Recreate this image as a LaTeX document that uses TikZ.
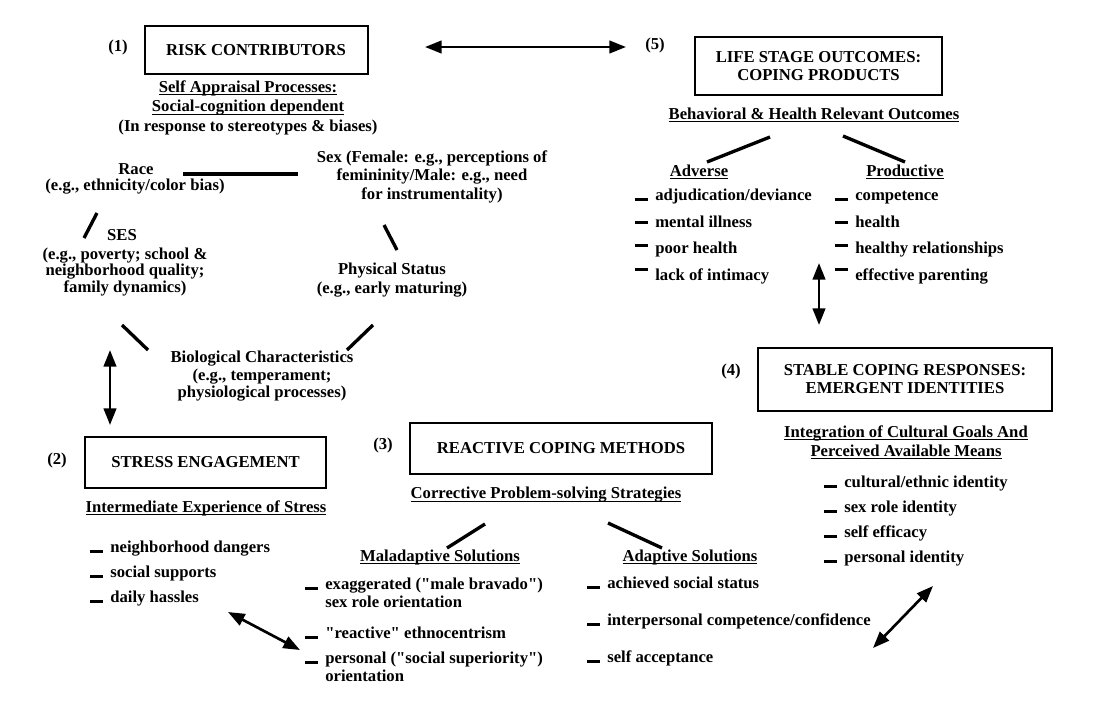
\documentclass[tikz,border=0pt]{standalone}
\usepackage{fontspec}
\setmainfont{Liberation Serif}
\usetikzlibrary{arrows, arrows.meta}
\newsavebox{\hdbox}
\newcommand{\hd}[1]{\sbox{\hdbox}{#1}\rlap{\rule[-2pt]{\wd\hdbox}{0.8pt}}\usebox{\hdbox}}
\newcommand{\itm}[2][0pt]{\raisebox{#1}{\rule[-0.6pt]{7.5pt}{1.8pt}}\hspace{4.5pt}#2}
\newcommand{\twoline}[2]{\begin{tabular}[t]{@{}l@{}}#1\\#2\end{tabular}}
\newcommand{\qq}{\textquotedbl}

\begin{document}
\begin{tikzpicture}[x=0.6pt, y=-0.6pt, font=\fontsize{10}{11}\selectfont\bfseries,
    stage/.style={draw, line width=1.2pt, align=center, inner sep=0pt},
    txt/.style={align=center, inner sep=0pt},
    lines/.style={font=\fontsize{10}{#1}\selectfont\bfseries},
    itemtxt/.style={anchor=base west, inner sep=0pt},
    bar/.style={line width=2pt},
    link/.style={>={Triangle[length=10pt, width=7.5pt]}, <->, line width=1.6pt}]

    \useasboundingbox (0,0) rectangle (1095,712);

    % (1) risk contributors
    \node (n1) at (118,47) {(1)};
    \node[stage, minimum width=133.8pt, minimum height=29pt] (risk) at (256,50) {RISK CONTRIBUTORS};
    \node[txt] (self1) at (248,88) {\hd{Self Appraisal Processes:}};
    \node[txt] (self2) at (248,108) {\hd{Social-cognition dependent}};
    \node[txt] (self3) at (248,128) {(In response to stereotypes \& biases)};

    \node[txt] (race) at (136,169) {Race};
    \node[txt] (racex) at (135,187) {(e.g., ethnicity/color bias)};
    \node[txt, lines=11.1pt] (sex) at (432,176.5) {Sex (Female: e.g., perceptions of\\femininity/Male: e.g., need\\for instrumentality)};
    \node[txt] (ses) at (122,235) {SES};
    \node[txt, lines=10pt] (sesx) at (125,272) {(e.g., poverty; school \&\\neighborhood quality;\\family dynamics)};
    \node[txt, lines=11.4pt] (phys) at (392,280.5) {Physical Status\\(e.g., early maturing)};
    \node[txt, lines=10.5pt] (bio) at (262,376.5) {Biological Characteristics\\(e.g., temperament;\\physiological processes)};

    \coordinate (raceR) at (183,174);
    \coordinate (sexL) at (298,174);
    \coordinate (sesT) at (97,213);
    \coordinate (sesB) at (84,238);
    \coordinate (sexB) at (384,225);
    \coordinate (physT) at (397,250);
    \coordinate (sesD) at (122,325);
    \coordinate (bioL) at (148,350);
    \coordinate (physD) at (373,325);
    \coordinate (bioR) at (347,350);
    \draw[bar] (raceR) -- (sexL);
    \draw[bar] (sesB) -- (sesT);
    \draw[bar] (sexB) -- (physT);
    \draw[bar] (sesD) -- (bioL);
    \draw[bar] (physD) -- (bioR);

    % (2) stress engagement
    \node (n2) at (57,460) {(2)};
    \node[stage, minimum width=144.6pt, minimum height=30.6pt] (stress) at (205.5,462.5) {STRESS ENGAGEMENT};
    \node[txt] (inter) at (206,508) {\hd{Intermediate Experience of Stress}};
    \node[itemtxt] (st1) at (90,552) {\itm{neighborhood dangers}};
    \node[itemtxt] (st2) at (90,577) {\itm{social supports}};
    \node[itemtxt] (st3) at (90,602) {\itm{daily hassles}};

    \coordinate (bioA) at (110,350);
    \coordinate (stressA) at (110,425);
    \draw[link] (bioA) -- (stressA);

    % (3) reactive coping methods
    \node (n3) at (383,445) {(3)};
    \node[stage, minimum width=181.2pt, minimum height=30.6pt] (react) at (561,448.5) {REACTIVE COPING METHODS};
    \node[txt] (corr) at (546,495) {\hd{Corrective Problem-solving Strategies}};
    \node[txt] (mal) at (440,557) {\hd{Maladaptive Solutions}};
    \node[txt] (ada) at (690,557) {\hd{Adaptive Solutions}};
    \coordinate (corrL) at (485,524);
    \coordinate (malT) at (447,548);
    \coordinate (corrR) at (608,523);
    \coordinate (adaT) at (662,548);
    \draw[bar] (corrL) -- (malT);
    \draw[bar] (corrR) -- (adaT);

    \node[itemtxt] (mal1) at (305,589) {\itm{\twoline{exaggerated (\qq male bravado\qq)}{sex role orientation}}};
    \node[itemtxt] (mal2) at (305,638) {\itm{\qq reactive\qq{} ethnocentrism}};
    \node[itemtxt] (mal3) at (305,663) {\itm{\twoline{personal (\qq social superiority\qq)}{orientation}}};
    \node[itemtxt] (ada1) at (587,588) {\itm{achieved social status}};
    \node[itemtxt] (ada2) at (587,625) {\itm{interpersonal competence/confidence}};
    \node[itemtxt] (ada3) at (587,662) {\itm{self acceptance}};

    \coordinate (stressC) at (228,612);
    \coordinate (malC) at (300,650);
    \draw[link] (stressC) -- (malC);

    % (4) stable coping responses
    \node (n4) at (731,371) {(4)};
    \node[stage, minimum width=176.4pt, minimum height=37.8pt, lines=10.8pt] (stable) at (905,379.5) {STABLE COPING RESPONSES:\\EMERGENT IDENTITIES};
    \node[txt] (integ1) at (906,433) {\hd{Integration of Cultural Goals And}};
    \node[txt] (integ2) at (906,452) {\hd{Perceived Available Means}};
    \node[itemtxt] (id1) at (824,487) {\itm{cultural/ethnic identity}};
    \node[itemtxt] (id2) at (824,512) {\itm{sex role identity}};
    \node[itemtxt] (id3) at (824,537) {\itm{self efficacy}};
    \node[itemtxt] (id4) at (824,562) {\itm{personal identity}};

    \coordinate (idC) at (933,586);
    \coordinate (adaC) at (873,648);
    \draw[link] (idC) -- (adaC);

    % (5) life stage outcomes
    \node (n5) at (655,45) {(5)};
    \node[stage, minimum width=148.2pt, minimum height=34.8pt, lines=10.5pt] (life) at (818.5,66) {LIFE STAGE OUTCOMES:\\COPING PRODUCTS};
    \node[txt] (behav) at (814,115) {\hd{Behavioral \& Health Relevant Outcomes}};
    \node[txt] (adv) at (699,172) {\hd{Adverse}};
    \node[txt] (prod) at (905,172) {\hd{Productive}};
    \coordinate (behavL) at (770,137);
    \coordinate (advT) at (707,162);
    \coordinate (behavR) at (843,136);
    \coordinate (prodT) at (905,162);
    \draw[bar] (behavL) -- (advT);
    \draw[bar] (behavR) -- (prodT);

    \node[itemtxt] (adv1) at (635,200) {\itm{adjudication/deviance}};
    \node[itemtxt] (adv2) at (635,227) {\itm[2.5pt]{mental illness}};
    \node[itemtxt] (adv3) at (635,253) {\itm[4.5pt]{poor health}};
    \node[itemtxt] (adv4) at (635,280) {\itm[6pt]{lack of intimacy}};
    \node[itemtxt] (prod1) at (835,200) {\itm{competence}};
    \node[itemtxt] (prod2) at (835,227) {\itm[2.5pt]{health}};
    \node[itemtxt] (prod3) at (835,253) {\itm[4.5pt]{healthy relationships}};
    \node[itemtxt] (prod4) at (835,280) {\itm[6pt]{effective parenting}};

    \coordinate (outA) at (819,263);
    \coordinate (stableA) at (819,325);
    \draw[link] (outA) -- (stableA);

    \coordinate (riskA) at (425,47);
    \coordinate (lifeA) at (626,47);
    \draw[link] (riskA) -- (lifeA);

\end{tikzpicture}
\end{document}
